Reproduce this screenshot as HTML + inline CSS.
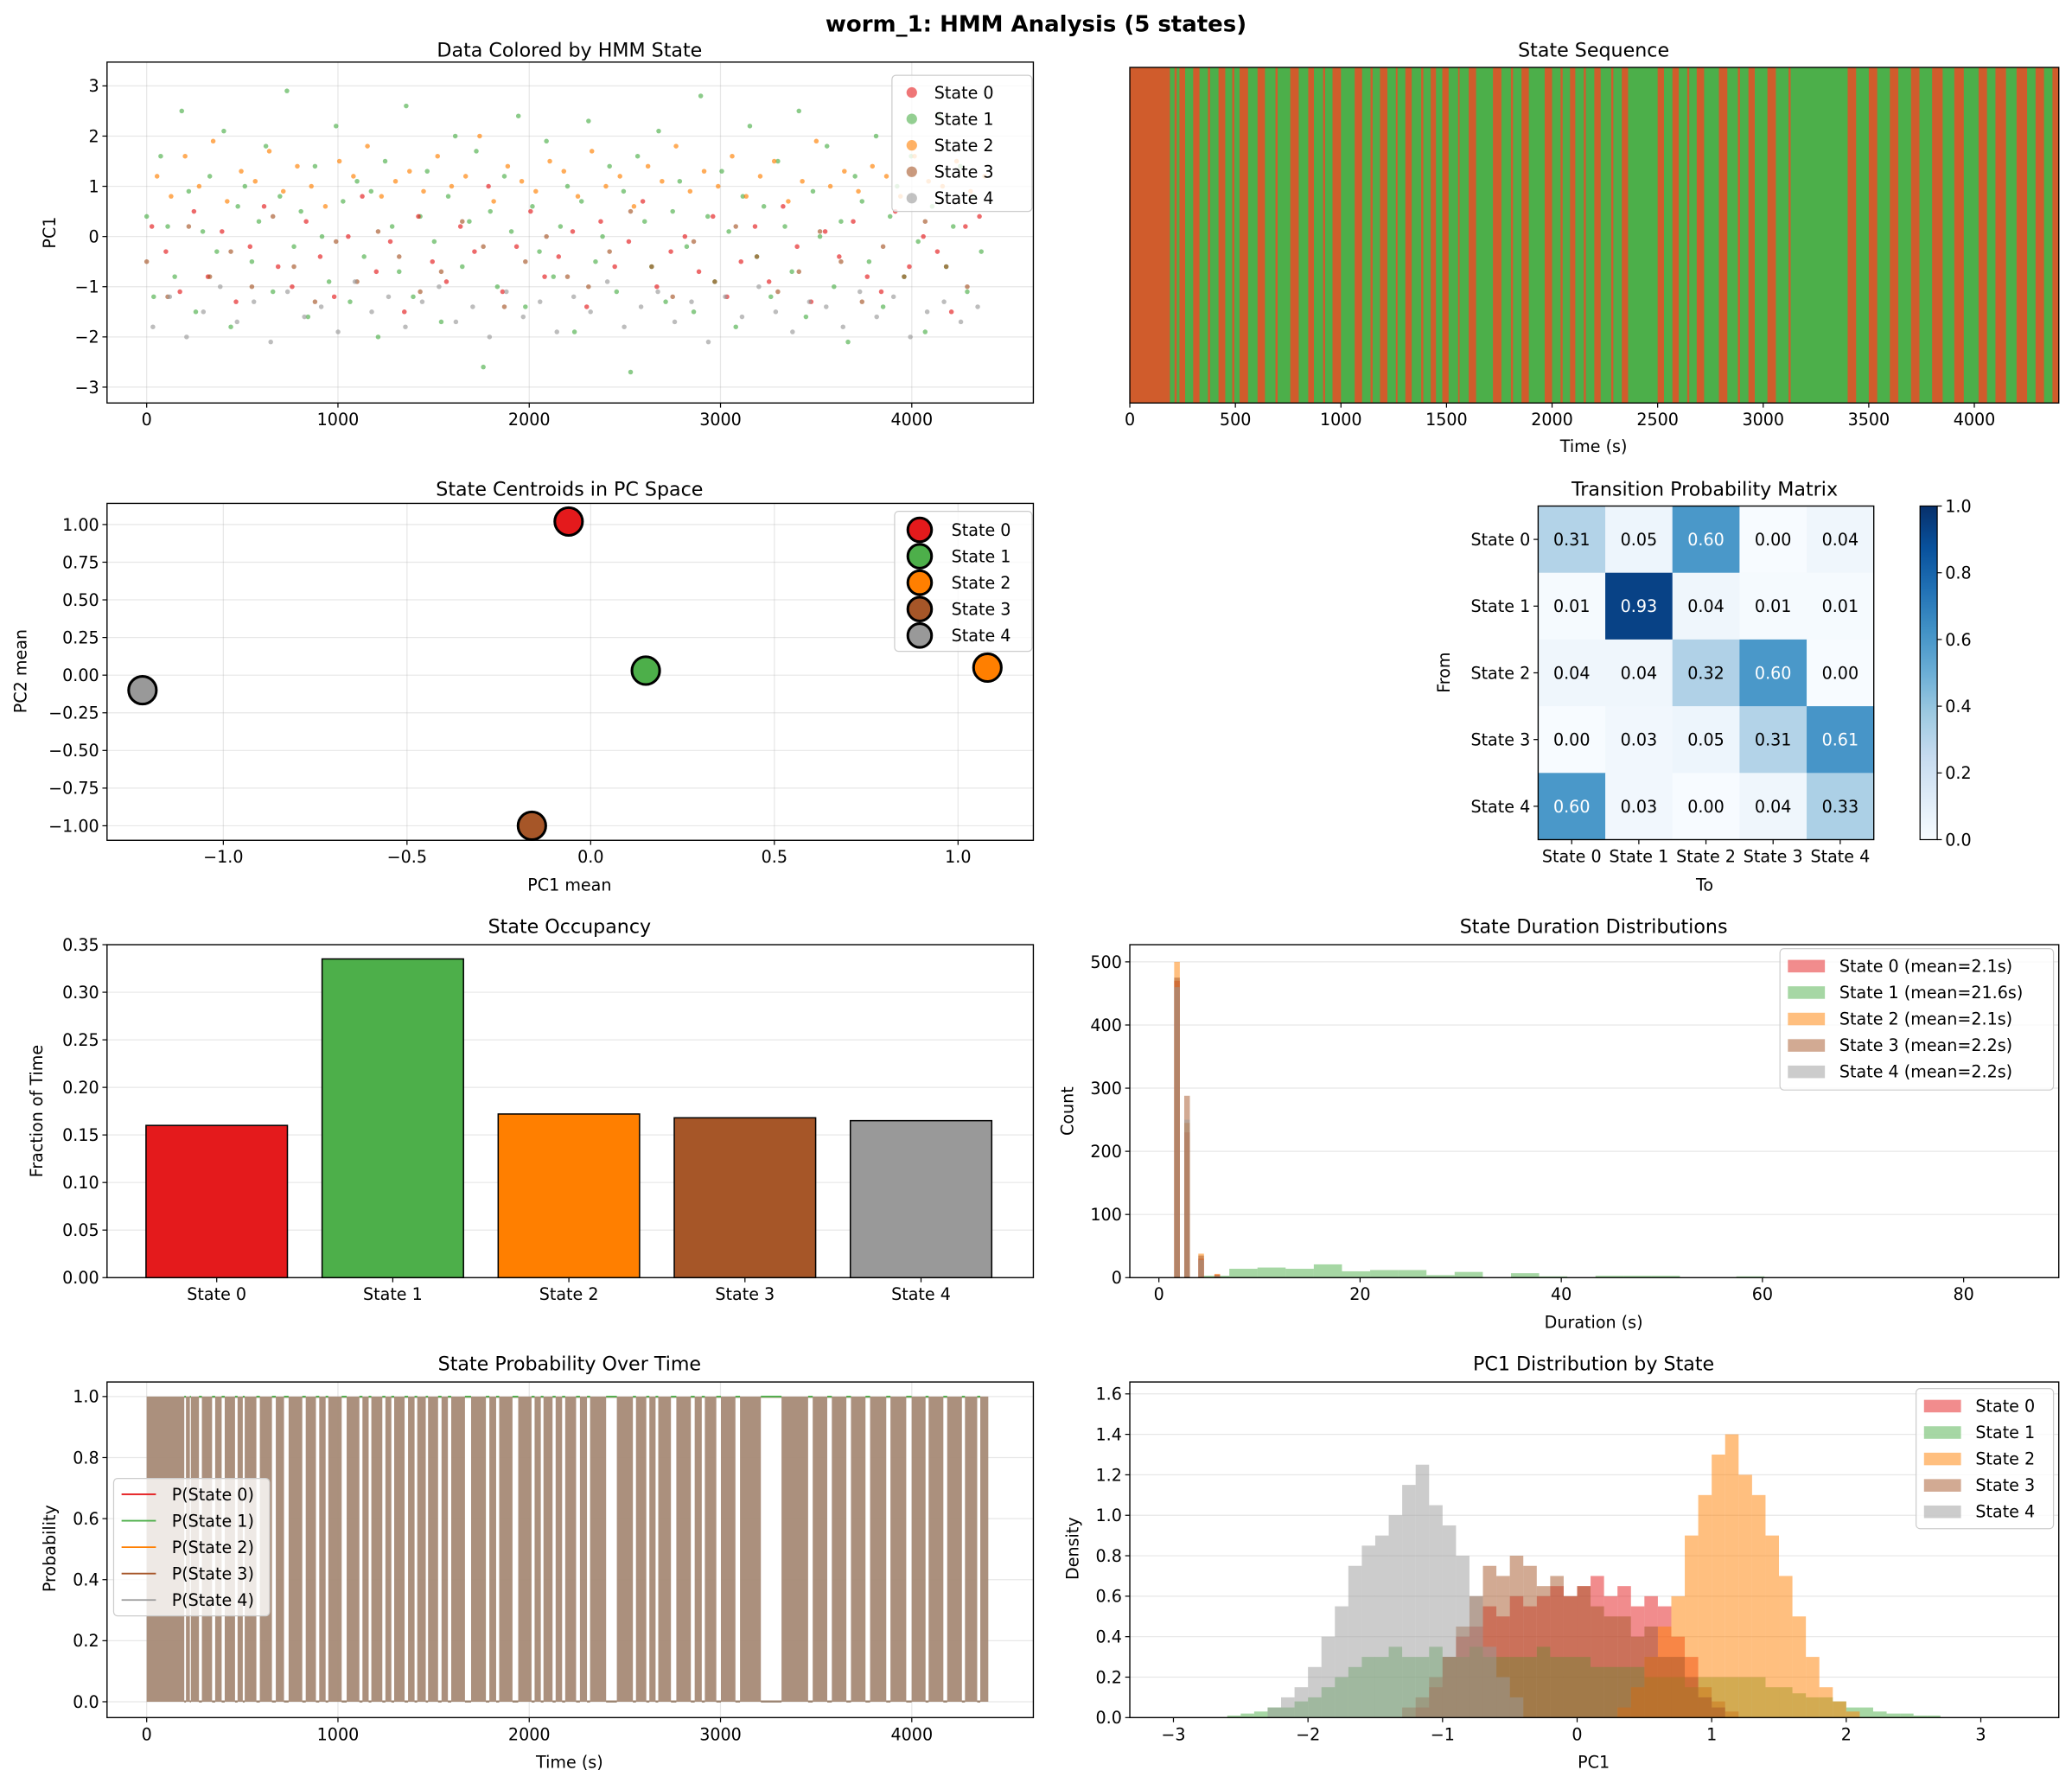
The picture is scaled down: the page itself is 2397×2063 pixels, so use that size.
<!DOCTYPE html>
<html><head><meta charset="utf-8"><style>
html,body{margin:0;padding:0;background:#fff;}
svg{display:block;font-family:"DejaVu Sans","Liberation Sans",sans-serif;}
</style></head><body>
<svg id="c" width="2397" height="2063" viewBox="0 0 1568 1349.5" xmlns="http://www.w3.org/2000/svg">
<defs><linearGradient id="blues" x1="0" y1="1" x2="0" y2="0">
<stop offset="0" stop-color="#f7fbff"/><stop offset="0.125" stop-color="#deebf7"/><stop offset="0.25" stop-color="#c6dbef"/><stop offset="0.375" stop-color="#9ecae1"/><stop offset="0.5" stop-color="#6baed6"/><stop offset="0.625" stop-color="#4292c6"/><stop offset="0.75" stop-color="#2171b5"/><stop offset="0.875" stop-color="#08519c"/><stop offset="1" stop-color="#08306b"/></linearGradient></defs>
<rect x="0" y="0" width="1568" height="1350" fill="#fff"/>
<text x="784" y="24" text-anchor="middle" font-size="17" font-weight="bold">worm_1: HMM Analysis (5 states)</text>
</svg>
<script>
// ---------- data ----------
const stateNames = ['State 0','State 1','State 2','State 3','State 4'];
const colors = ['#e41a1c','#4daf4a','#ff7f00','#a65628','#999999'];
const scat0 = [0.2,-0.3,-1.1,0.5,-0.8,0.1,-1.3,-0.2,0.6,-0.6,-1.0,0.3,-0.4,-1.2,0.0,0.8,-0.7,-0.1,-1.5,0.4,-0.5,-0.9,0.2,-0.3,1.0,-1.1,-0.2,0.5,-0.8,-0.4,0.1,-1.4,0.3,-0.6,-0.1,0.7,-1.0,-0.3,0.0,-0.7,0.4,-1.2,-0.5,0.2,-0.9,0.6,-0.2,-1.3,0.1,-0.4,0.3,-0.8,-1.1,0.5,-0.6,0.0,-0.3,-1.5,0.2,0.4];
const scat1 = [0.4,-1.2,1.6,0.2,-0.8,2.5,0.9,-1.5,0.1,1.2,-0.3,2.1,-1.8,0.6,1.0,-0.5,0.3,1.8,-1.1,0.8,2.9,-0.2,0.5,-1.6,1.4,0.0,-0.9,2.2,0.7,-1.3,1.1,-0.4,0.9,-2.0,1.5,0.2,-0.7,2.6,-1.2,0.4,1.3,-0.1,-1.7,0.8,2.0,-0.6,0.3,1.7,-2.6,0.5,-1.0,1.2,0.1,2.4,-1.4,0.6,-0.3,1.9,-0.8,0.2,1.0,-1.9,0.7,2.3,-0.5,0.0,1.4,-1.1,0.9,-2.7,1.6,0.3,-0.6,2.1,-1.3,0.5,1.1,-0.2,-1.5,2.8,0.4,-0.9,1.3,0.1,-1.8,0.8,2.2,-0.4,0.6,-1.2,1.5,0.2,-0.7,2.5,-1.6,0.9,0.0,1.8,-1.0,0.3,-2.1,1.2,0.7,-0.5,2.0,-1.4,0.4,1.0,-0.8,1.6,-0.1,-1.9,0.6,2.4,-0.6,0.2,1.4,-1.1,0.8,-0.3];
const scat2 = [1.2,0.8,1.6,1.0,1.9,0.7,1.3,1.1,1.7,0.9,1.4,1.0,0.6,1.5,1.2,1.8,0.8,1.1,1.3,0.9,1.6,1.0,1.2,2.0,0.7,1.4,1.1,0.9,1.5,1.3,0.8,1.7,1.0,1.2,0.6,1.4,1.1,1.8,0.9,1.3,1.0,1.6,0.8,1.2,1.5,0.7,1.1,1.9,1.0,1.3,0.9,1.4,1.2,0.8,1.6,1.1,1.0,1.5,0.9,1.2];
const scat3 = [-0.5,-1.2,0.2,-0.8,-0.3,-1.0,0.4,-0.6,-1.3,-0.1,-0.9,0.1,-0.4,-1.1,-0.7,0.3,-0.2,-1.4,-0.5,0.0,-0.8,-1.0,-0.3,0.5,-0.6,-1.2,-0.1,-0.9,0.2,-0.4,-1.1,-0.7,0.1,-0.5,-1.3,-0.2,-0.8,0.3,-0.6,-1.0];
const scat4 = [-1.8,-1.2,-2.0,-1.5,-1.0,-1.7,-1.3,-2.1,-1.1,-1.6,-1.4,-1.9,-0.9,-1.5,-1.2,-1.8,-1.3,-1.0,-1.7,-1.4,-2.0,-1.1,-1.6,-1.3,-1.9,-1.2,-1.5,-0.9,-1.8,-1.4,-1.1,-1.7,-1.3,-2.1,-1.2,-1.6,-1.0,-1.5,-1.9,-1.3,-1.4,-1.8,-1.1,-1.6,-1.2,-2.0,-1.5,-1.3,-1.7,-1.4];
const greenSegs = [[190,212],[222,235],[262,300],[330,370],[380,420],[452,485],[495,520],[560,605],[640,690],[700,760],[800,845],[872,915],[925,960],[1000,1065],[1100,1140],[1150,1185],[1220,1260],[1268,1305],[1335,1380],[1390,1425],[1450,1480],[1510,1555],[1562,1605],[1640,1720],[1760,1805],[1815,1855],[1890,1965],[2000,2040],[2050,2085],[2110,2150],[2160,2200],[2230,2280],[2290,2330],[2360,2500],[2530,2570],[2600,2640],[2650,2685],[2720,2790],[2830,2880],[2890,2930],[2960,3020],[3060,3120],[3130,3400],[3440,3500],[3540,3600],[3640,3700],[3740,3800],[3850,3905],[3950,4020],[4060,4100],[4150,4200],[4250,4290],[4330,4370]];
const centX = [-0.06,0.15,1.08,-0.16,-1.22];
const centY = [1.02,0.03,0.05,-1.00,-0.10];
const transMat = [[0.31,0.05,0.60,0.00,0.04],[0.01,0.93,0.04,0.01,0.01],[0.04,0.04,0.32,0.60,0.00],[0.00,0.03,0.05,0.31,0.61],[0.60,0.03,0.00,0.04,0.33]];
const occupancy = [0.160,0.335,0.172,0.168,0.165];
const durShortCenters = [1.8,2.8,4.2,5.8];
const durShort0 = [470,230,30,5];
const durShort2 = [500,245,38,6];
const durShort3 = [475,288,35,4];
const durShort4 = [460,250,28,3];
const dur1Edges = [4.2,7.0,9.8,12.6,15.4,18.2,21.0,23.8,26.6,29.4,32.2,35.0,37.8,40.6,43.4,46.2,49.0,51.8,54.6,57.4,60.2];
const dur1Counts = [3,14,16,14,21,10,12,12,4,9,0,7,2,0,3,3,3,0,0,2];
const pcStart = [-1.3,-2.6,0.3,-1.2,-2.3];
const pc0 = [0.05,0.1,0.2,0.3,0.4,0.45,0.55,0.5,0.6,0.55,0.6,0.65,0.6,0.65,0.7,0.6,0.65,0.55,0.6,0.55,0.4,0.3,0.15,0.08,0.03];
const pc1 = [0.01,0.02,0.03,0.05,0.05,0.08,0.1,0.15,0.2,0.25,0.3,0.3,0.35,0.3,0.3,0.35,0.3,0.3,0.35,0.3,0.3,0.3,0.3,0.35,0.3,0.3,0.3,0.25,0.25,0.25,0.25,0.2,0.2,0.2,0.15,0.2,0.2,0.2,0.2,0.2,0.15,0.15,0.12,0.1,0.1,0.08,0.05,0.05,0.03,0.02,0.02,0.01,0.01];
const pc2 = [0.05,0.15,0.3,0.45,0.6,0.9,1.1,1.3,1.4,1.2,1.1,0.9,0.7,0.5,0.3,0.15,0.08,0.03];
const pc3 = [0.05,0.15,0.3,0.45,0.6,0.75,0.7,0.8,0.75,0.65,0.7,0.6,0.65,0.55,0.5,0.5,0.4,0.45,0.3,0.3,0.2,0.1,0.05];
const pc4 = [0.05,0.1,0.15,0.25,0.4,0.55,0.75,0.85,0.9,1.0,1.15,1.25,1.05,0.95,0.8,0.6,0.35,0.2,0.1];
const pcBin = 0.1;

// ---------- helpers ----------
const NS='http://www.w3.org/2000/svg';
const svg=document.getElementById('c');
function mk(tag,a,p){const e=document.createElementNS(NS,tag);for(const k in a)e.setAttribute(k,a[k]);(p||svg).appendChild(e);return e;}
function txt(s,a,p){const e=mk('text',a,p);e.textContent=s;return e;}
function lin(d0,d1,r0,r1){return v=>r0+(v-d0)*(r1-r0)/(d1-d0);}
function panel(name){const g=mk('g',{});return g;}
function xAxis(g,vals,labels,sx,yb,gridTop){
  for(let i=0;i<vals.length;i++){const x=sx(vals[i]);
    if(gridTop!==null){const gl=mk('line',{x1:x,x2:x,y1:gridTop,y2:yb,stroke:'#b0b0b0','stroke-opacity':0.3,'stroke-width':0.8},g);
      }
  }
  return ()=>{for(let i=0;i<vals.length;i++){const x=sx(vals[i]);
    const t=mk('line',{x1:x,x2:x,y1:yb,y2:yb+3.5,stroke:'#000','stroke-width':0.8},g);
    
    const l=txt(labels[i],{x:x,y:yb+17,'text-anchor':'middle','font-size':12.5},g);
    }};
}
function yAxis(g,vals,labels,sy,xl,gridRight){
  for(let i=0;i<vals.length;i++){const y=sy(vals[i]);
    if(gridRight!==null){const gl=mk('line',{x1:xl,x2:gridRight,y1:y,y2:y,stroke:'#b0b0b0','stroke-opacity':0.3,'stroke-width':0.8},g);
      }
  }
  return ()=>{for(let i=0;i<vals.length;i++){const y=sy(vals[i]);
    const t=mk('line',{x1:xl-3.5,x2:xl,y1:y,y2:y,stroke:'#000','stroke-width':0.8},g);
    
    const l=txt(labels[i],{x:xl-6,y:y+4.5,'text-anchor':'end','font-size':12.5},g);
    }};
}
function frame(g,x0,x1,y0,y1){const f=mk('rect',{x:x0,y:y0,width:x1-x0,height:y1-y0,fill:'none',stroke:'#000','stroke-width':0.9},g);
  }
function title(g,s,x,y){const t=txt(s,{x:x,y:y,'text-anchor':'middle','font-size':14.5},g);
  }
function xlabel(g,s,x,y){const t=txt(s,{x:x,y:y,'text-anchor':'middle','font-size':12.5},g);
  }
function ylabel(g,s,x,y){const t=txt(s,{x:x,y:y,'text-anchor':'middle','font-size':12.5,transform:`rotate(-90 ${x} ${y})`},g);
  }
function legendBox(g,x,y,w,h){const b=mk('rect',{x:x,y:y,width:w,height:h,fill:'#fff','fill-opacity':0.8,stroke:'#ccc','stroke-width':0.8,rx:3},g);
  }

// ---------- Panel 1: scatter ----------
{const g=panel('scatter-panel');
 const sx=lin(0,4000,111,690), sy=lin(0,3,179,65);
 const fx=xAxis(g,[0,1000,2000,3000,4000],['0','1000','2000','3000','4000'],sx,305,47);
 const fy=yAxis(g,[-3,-2,-1,0,1,2,3],['−3','−2','−1','0','1','2','3'],sy,81,782);
 const all=[scat1,scat0,scat2,scat3,scat4], idx=[1,0,2,3,4];
 all.forEach((arr,k)=>{const s=idx[k];const step=4400/arr.length;
   arr.forEach((v,i)=>{const c=mk('circle',{cx:sx(i*step+step*0.37*(k%3)),cy:sy(v),r:1.8,fill:colors[s],'fill-opacity':0.65},g);
     });});
 frame(g,81,782,47,305);fx();fy();
 title(g,'Data Colored by HMM State',431,43);ylabel(g,'PC1',42,176);
 legendBox(g,675,57,106,103);
 stateNames.forEach((n,i)=>{const y=70+i*20;
   const m=mk('circle',{cx:690,cy:y,r:4,fill:colors[i],'fill-opacity':0.6},g);
   const t=txt(n,{x:707,y:y+4.5,'font-size':12.5},g);});
}
// ---------- Panel 2: state sequence ----------
{const g=panel('state-sequence-panel');
 const sx=lin(0,4400,855,1558);
 const bg=mk('rect',{x:855,y:51,width:703,height:254,fill:'#d05c2c'},g);
 greenSegs.forEach(s=>{const r=mk('rect',{x:sx(s[0]),y:51,width:sx(s[1])-sx(s[0]),height:254,fill:'#4caf4a'},g);
   });
 const fx=xAxis(g,[0,500,1000,1500,2000,2500,3000,3500,4000],['0','500','1000','1500','2000','2500','3000','3500','4000'],sx,305,null);
 frame(g,855,1558,51,305);fx();
 title(g,'State Sequence',1206,43);xlabel(g,'Time (s)',1206,342);
}
// ---------- Panel 3: centroids ----------
{const g=panel('centroids-panel');
 const sx=lin(-1,1,169,725), sy=lin(-1,1,625,397);
 const fx=xAxis(g,[-1,-0.5,0,0.5,1],['−1.0','−0.5','0.0','0.5','1.0'],sx,636,381);
 const yv=[-1,-0.75,-0.5,-0.25,0,0.25,0.5,0.75,1];
 const fy=yAxis(g,yv,yv.map(v=>(v<0?'−':'')+Math.abs(v).toFixed(2)),sy,81,782);
 centX.forEach((v,i)=>{const c=mk('circle',{cx:sx(v),cy:sy(centY[i]),r:10.5,fill:colors[i],stroke:'#000','stroke-width':2},g);
   });
 frame(g,81,782,381,636);fx();fy();
 title(g,'State Centroids in PC Space',431,375);xlabel(g,'PC1 mean',431,674);ylabel(g,'PC2 mean',20,508);
 legendBox(g,677,387,104,106);
 stateNames.forEach((n,i)=>{const y=401+i*20;
   const m=mk('circle',{cx:696,cy:y,r:9,fill:colors[i],stroke:'#000','stroke-width':2},g);
   const t=txt(n,{x:720,y:y+4.5,'font-size':12.5},g);});
}
// ---------- Heatmap ----------
{const g=panel('transition-matrix-panel');
 const stops=[[0,[247,251,255]],[0.125,[222,235,247]],[0.25,[198,219,239]],[0.375,[158,202,225]],[0.5,[107,174,214]],[0.625,[66,146,198]],[0.75,[33,113,181]],[0.875,[8,81,156]],[1,[8,48,107]]];
 function blues(v){for(let i=1;i<stops.length;i++){if(v<=stops[i][0]){const a=stops[i-1],b=stops[i],t=(v-a[0])/(b[0]-a[0]);
   return 'rgb('+a[1].map((c,j)=>Math.round(c+(b[1][j]-c)*t)).join(',')+')';}}return 'rgb(8,48,107)';}
 const x0=1164,y0=383,cw=50.8,ch=50.5;
 transMat.forEach((row,r)=>row.forEach((v,c)=>{
   const rc=mk('rect',{x:x0+c*cw,y:y0+r*ch,width:cw+0.3,height:ch+0.3,fill:blues(v)},g);
   const t=txt(v.toFixed(2),{x:x0+c*cw+cw/2,y:y0+r*ch+ch/2+4.5,'text-anchor':'middle','font-size':12.5,fill:v>0.5?'#fff':'#000'},g);
   }));
 frame(g,x0,x0+5*cw,y0,y0+5*ch);
 stateNames.forEach((n,i)=>{
   const ty=mk('line',{x1:x0-3.5,x2:x0,y1:y0+i*ch+ch/2,y2:y0+i*ch+ch/2,stroke:'#000','stroke-width':0.8},g);
   const ly=txt(n,{x:x0-6,y:y0+i*ch+ch/2+4.5,'text-anchor':'end','font-size':12.5},g);
   const tx=mk('line',{x1:x0+i*cw+cw/2,x2:x0+i*cw+cw/2,y1:y0+5*ch,y2:y0+5*ch+3.5,stroke:'#000','stroke-width':0.8},g);
   const lx=txt(n,{x:x0+i*cw+cw/2,y:y0+5*ch+17,'text-anchor':'middle','font-size':12.5},g);});
 title(g,'Transition Probability Matrix',1290,375);xlabel(g,'To',1290,674);ylabel(g,'From',1097,509);
 const cb=mk('rect',{x:1453,y:383,width:13,height:252.5,fill:'url(#blues)',stroke:'#000','stroke-width':0.8},g);
 [0,0.2,0.4,0.6,0.8,1.0].forEach(v=>{const y=635.5-v*252.5;
   const t=mk('line',{x1:1466,x2:1469.5,y1:y,y2:y,stroke:'#000','stroke-width':0.8},g);
   const l=txt(v.toFixed(1),{x:1472,y:y+4.5,'font-size':12.5},g);});
}
// ---------- Panel 4: occupancy ----------
{const g=panel('occupancy-panel');
 const sy=lin(0,0.35,967,715), sx=lin(0,4,164,697);
 const yv=[0,0.05,0.1,0.15,0.2,0.25,0.3,0.35];
 const fy=yAxis(g,yv,yv.map(v=>v.toFixed(2)),sy,81,782);
 occupancy.forEach((v,i)=>{const b=mk('rect',{x:sx(i)-53.5,y:sy(v),width:107,height:sy(0)-sy(v),fill:colors[i],stroke:'#000','stroke-width':1},g);
   });
 const fx=xAxis(g,[0,1,2,3,4],stateNames,sx,967,null);
 frame(g,81,782,715,967);fx();fy();
 title(g,'State Occupancy',431,706);ylabel(g,'Fraction of Time',32,841);
}
// ---------- Panel 5: durations ----------
{const g=panel('duration-panel');
 const sx=lin(0,80,877,1486), sy=lin(0,500,967,728);
 const fy=yAxis(g,[0,100,200,300,400,500],['0','100','200','300','400','500'],sy,855,1558);
 const fx=xAxis(g,[0,20,40,60,80],['0','20','40','60','80'],sx,967,null);
 const sets=[[0,durShort0],[2,durShort2],[3,durShort3],[4,durShort4]];
 for(let i=0;i<dur1Counts.length;i++){const v=dur1Counts[i];
   const b=mk('rect',{x:sx(dur1Edges[i]),y:sy(v),width:sx(dur1Edges[i+1])-sx(dur1Edges[i]),height:sy(0)-sy(v),fill:colors[1],'fill-opacity':0.5},g);
   }
 sets.forEach(([s,arr])=>arr.forEach((v,i)=>{const c=durShortCenters[i];
   const b=mk('rect',{x:sx(c-0.28),y:sy(v),width:sx(0.56)-sx(0),height:sy(0)-sy(v),fill:colors[s],'fill-opacity':0.5},g);
   }));
 frame(g,855,1558,715,967);fx();fy();
 title(g,'State Duration Distributions',1206,706);xlabel(g,'Duration (s)',1206,1005);ylabel(g,'Count',812,841);
 const means=['2.1','21.6','2.1','2.2','2.2'];
 legendBox(g,1347,718,207,107);
 stateNames.forEach((n,i)=>{const y=731+i*20;
   const m=mk('rect',{x:1353,y:y-4.5,width:28,height:9.5,fill:colors[i],'fill-opacity':0.5},g);
   const t=txt(n+' (mean='+means[i]+'s)',{x:1392,y:y+4.5,'font-size':12.5},g);});
}
// ---------- Panel 6: probability over time ----------
{const g=panel('probability-panel');
 const sx=lin(0,4000,111,690), sy=lin(0,1,1288,1057);
 const fx=xAxis(g,[0,1000,2000,3000,4000],['0','1000','2000','3000','4000'],sx,1300,1046);
 const yv=[0,0.2,0.4,0.6,0.8,1.0];
 const fy=yAxis(g,yv,yv.map(v=>v.toFixed(1)),sy,81,782);
 const fill=mk('rect',{x:sx(0),y:sy(1),width:sx(4400)-sx(0),height:sy(0)-sy(1),fill:'#a68a76','fill-opacity':0.95},g);
 
 greenSegs.forEach(s=>{const a=sx(s[0]),b=sx(s[1]),w=b-a,gx=a+w*0.3,gw=w*0.4;
   const wr=mk('rect',{x:gx,y:sy(1)+1,width:gw,height:sy(0)-sy(1)-2,fill:'#fff'},g);
   const gl=mk('line',{x1:gx,x2:gx+gw,y1:sy(1),y2:sy(1),stroke:colors[1],'stroke-width':1.2},g);
   const bl=mk('line',{x1:gx,x2:gx+gw,y1:sy(0),y2:sy(0),stroke:'#9a8370','stroke-width':1.2},g);});
 frame(g,81,782,1046,1300);fx();fy();
 title(g,'State Probability Over Time',431,1037);xlabel(g,'Time (s)',431,1338);ylabel(g,'Probability',42,1172);
 legendBox(g,86,1119,118,104);
 stateNames.forEach((n,i)=>{const y=1131+i*20;
   const m=mk('line',{x1:92,x2:118,y1:y,y2:y,stroke:colors[i],'stroke-width':1.2},g);
   const t=txt('P('+n+')',{x:130,y:y+4.5,'font-size':12.5},g);});
}
// ---------- Panel 7: PC1 distribution ----------
{const g=panel('pc1-distribution-panel');
 const sx=lin(-3,3,888,1499), sy=lin(0,1.6,1300,1055);
 const yv=[0,0.2,0.4,0.6,0.8,1.0,1.2,1.4,1.6];
 const fy=yAxis(g,yv,yv.map(v=>v.toFixed(1)),sy,855,1558);
 const fx=xAxis(g,[-3,-2,-1,0,1,2,3],['−3','−2','−1','0','1','2','3'],sx,1300,null);
 [pc0,pc1,pc2,pc3,pc4].forEach((arr,s)=>arr.forEach((v,i)=>{const a=pcStart[s]+i*pcBin;
   const b=mk('rect',{x:sx(a),y:sy(v),width:sx(a+pcBin)-sx(a),height:sy(0)-sy(v),fill:colors[s],'fill-opacity':0.5},g);
   }));
 frame(g,855,1558,1046,1300);fx();fy();
 title(g,'PC1 Distribution by State',1206,1037);xlabel(g,'PC1',1206,1338);ylabel(g,'Density',816,1172);
 legendBox(g,1450,1051,104,106);
 stateNames.forEach((n,i)=>{const y=1064+i*20;
   const m=mk('rect',{x:1456,y:y-4.5,width:28,height:9.5,fill:colors[i],'fill-opacity':0.5},g);
   const t=txt(n,{x:1495,y:y+4.5,'font-size':12.5},g);});
}
</script>
</body></html>
